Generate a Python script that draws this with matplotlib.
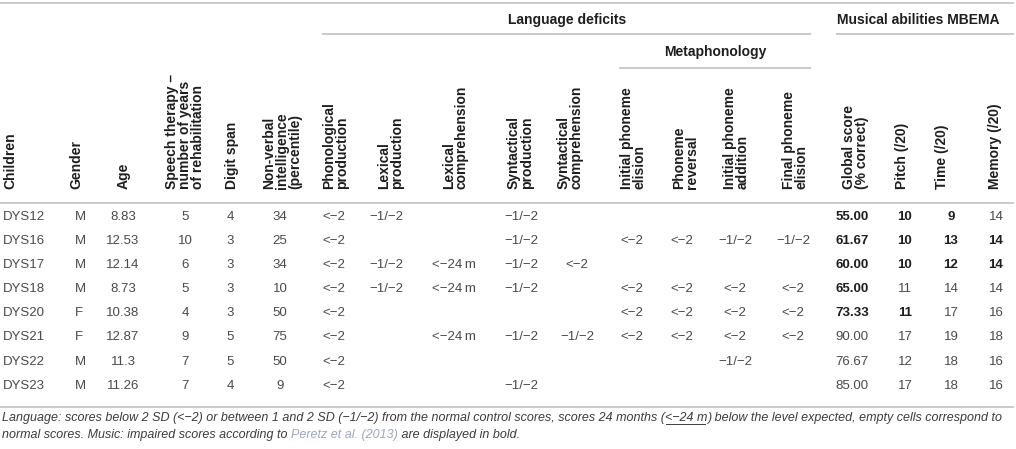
import matplotlib
matplotlib.use('Agg')
import matplotlib.pyplot as plt

plt.rcParams['font.family'] = ['Liberation Sans', 'DejaVu Sans']

# table content
children = ['DYS12', 'DYS16', 'DYS17', 'DYS18', 'DYS20', 'DYS21', 'DYS22', 'DYS23']
gender = ['M', 'M', 'M', 'M', 'F', 'F', 'M', 'M']
age = ['8.83', '12.53', '12.14', '8.73', '10.38', '12.87', '11.3', '11.26']
speech_therapy = ['5', '10', '6', '5', '4', '9', '7', '7']
digit_span = ['4', '3', '3', '3', '3', '5', '5', '4']
nonverbal = ['34', '25', '34', '10', '50', '75', '50', '9']

L2 = '<\u22122'
L12 = '\u22121/\u22122'
L24 = '<\u221224\u2009m'
phon_prod = [L2, L2, L2, L2, L2, L2, L2, L2]
lex_prod = [L12, '', L12, L12, '', '', '', '']
lex_comp = ['', '', L24, L24, '', L24, '', '']
synt_prod = [L12, L12, L12, L12, '', L12, '', L12]
synt_comp = ['', '', L2, '', '', L12, '', '']
init_elision = ['', L2, '', L2, L2, L2, '', '']
phon_reversal = ['', L2, '', L2, L2, L2, '', '']
init_addition = ['', L12, '', L2, L2, L2, L12, '']
final_elision = ['', L12, '', L2, L2, L2, '', '']

global_score = ['55.00', '61.67', '60.00', '65.00', '73.33', '90.00', '76.67', '85.00']
pitch = ['10', '10', '10', '11', '11', '17', '12', '17']
time_ = ['9', '13', '12', '14', '17', '19', '18', '18']
memory = ['14', '14', '14', '14', '16', '18', '16', '16']
# impaired (bold) flags for Global, Pitch, Time, Memory
bold_global = [1, 1, 1, 1, 1, 0, 0, 0]
bold_pitch = [1, 1, 1, 0, 1, 0, 0, 0]
bold_time = [1, 1, 1, 0, 0, 0, 0, 0]
bold_memory = [0, 1, 1, 0, 0, 0, 0, 0]

headers = ['Children', 'Gender', 'Age',
           'Speech therapy \u2013\nnumber of years\nof rehabilitation',
           'Digit span', 'Non-verbal\nintelligence\n(percentile)',
           'Phonological\nproduction', 'Lexical\nproduction',
           'Lexical\ncomprehension', 'Syntactical\nproduction',
           'Syntactical\ncomprehension', 'Initial phoneme\nelision',
           'Phoneme\nreversal', 'Initial phoneme\naddition',
           'Final phoneme\nelision', 'Global score\n(% correct)',
           'Pitch (/20)', 'Time (/20)', 'Memory (/20)']

columns = [children, gender, age, speech_therapy, digit_span, nonverbal,
           phon_prod, lex_prod, lex_comp, synt_prod, synt_comp,
           init_elision, phon_reversal, init_addition, final_elision,
           global_score, pitch, time_, memory]
bold_cols = {15: bold_global, 16: bold_pitch, 17: bold_time, 18: bold_memory}

# layout (pixels)
head_x = [3, 69, 117, 165, 225, 262, 322, 377, 442, 507, 557, 620, 672,
          723, 782, 842, 895, 935, 988]
cell_x = [3, 75, 123, 185, 230, 280, 334, 386, 454, 521, 577, 632, 682,
          735, 793, 852, 905, 951, 996]
row_y0, row_dy = 217, 24.1

W, H = 1016, 449
fig = plt.figure(figsize=(W / 100, H / 100), dpi=100)
ax = fig.add_axes([0, 0, 1, 1])
ax.set_xlim(0, W)
ax.set_ylim(H, 0)
ax.axis('off')

rule = dict(color='#c9c9c9', lw=1.4, solid_capstyle='butt')
ax.plot([0, 1014], [3, 3], **rule)
ax.plot([322, 811], [34, 34], **rule)
ax.plot([836, 1014], [34, 34], **rule)
ax.plot([619, 811], [68, 68], **rule)
ax.plot([0, 1014], [203, 203], **rule)
ax.plot([0, 1014], [407, 407], **rule)

hc = '#1e1e1e'
hs = 10.0
ax.text(567, 20, 'Language deficits', ha='center', va='center',
        fontsize=hs, fontweight='bold', color=hc)
ax.text(918, 20, 'Musical abilities MBEMA', ha='center', va='center',
        fontsize=hs, fontweight='bold', color=hc)
ax.text(715, 52, 'Metaphonology', ha='center', va='center',
        fontsize=hs, fontweight='bold', color=hc)

for hx, label in zip(head_x, headers):
    ax.text(hx, 189, label, rotation=90, ha='left', va='bottom',
            multialignment='left', fontsize=hs, fontweight='bold',
            color=hc, linespacing=0.9)

for j, col in enumerate(columns):
    for i, val in enumerate(col):
        if not val:
            continue
        y = row_y0 + i * row_dy
        bold = j in bold_cols and bold_cols[j][i]
        ha = 'left' if j in (0, 1) else 'center'
        ax.text(cell_x[j], y, val, ha=ha, va='center', fontsize=9.5,
                fontweight='bold' if bold else 'normal',
                color='#1e1e1e' if bold else '#4a4a4a')

# footnote, drawn piece by piece
note_lines = [
    [('Language: scores below 2 SD (<\u22122) or between 1 and 2 SD (\u22121/\u22122) '
      'from the normal control scores, scores 24 months (', None),
     ('<\u221224 m', 'u'),
     (') below the level expected, empty cells correspond to', None)],
    [('normal scores. Music: impaired scores according to ', None),
     ('Peretz et al. (2013)', 'link'),
     (' are displayed in bold.', None)],
]
note_y = [418, 435]
fig.canvas.draw()
renderer = fig.canvas.get_renderer()
for line, y in zip(note_lines, note_y):
    x = 2
    for txt, kind in line:
        t = ax.text(x, y, txt, ha='left', va='center', fontsize=9.0,
                    style='italic',
                    color='#9aa9bb' if kind == 'link' else '#3c3c3c')
        bb = t.get_window_extent(renderer)
        x1 = x + bb.width
        if kind == 'u':
            ax.plot([x + 1, x1 - 2], [y + 5.5, y + 5.5], color='#3c3c3c', lw=0.7)
        x = x1

fig.savefig('out.png', dpi=100)
